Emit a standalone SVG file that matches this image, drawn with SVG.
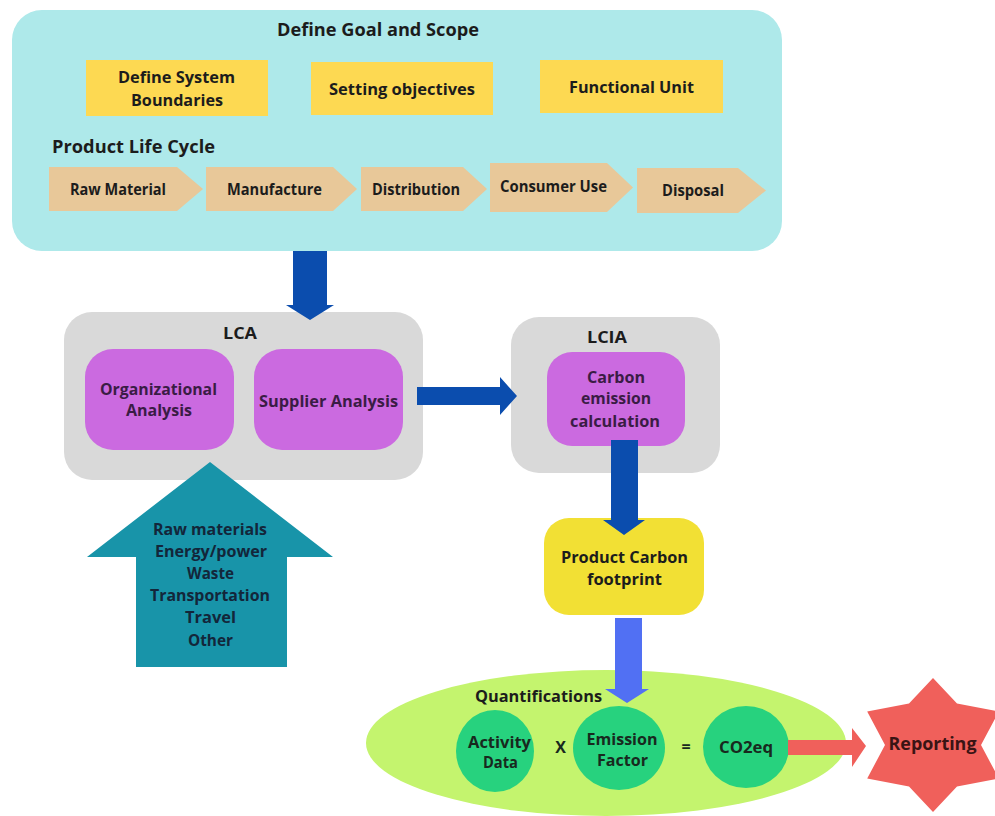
<svg xmlns="http://www.w3.org/2000/svg" width="995" height="816" viewBox="0 0 995 816">
<style>
text{font-family:"Open Sans","Liberation Sans",sans-serif;font-weight:700;fill:#1c1c1c;text-anchor:middle;font-size:16px}
.t{font-size:17px}
.pl{fill:#3a1c45}
.tl{fill:#13263a}
.gl{fill:#18291e}
.yb{fill:#fdd952}
.chev{fill:#e8c899}
.grey{fill:#d9d9d9}
.pur{fill:#cb6ae0}
.blue{fill:#0b4dae}
.circ{fill:#27d27e}
</style>
<rect width="995" height="816" fill="#ffffff"/>
<g id="goal-scope">
<rect x="12" y="10" width="770" height="241" rx="30" fill="#aee9ea"/>
<text class="t" x="378" y="36" textLength="202" lengthAdjust="spacingAndGlyphs">Define Goal and Scope</text>
</g>
<g id="system-boundaries">
<rect class="yb" x="86" y="60" width="182" height="56"/>
<text x="176.5" y="83" textLength="117" lengthAdjust="spacingAndGlyphs">Define System</text>
<text x="177" y="106" textLength="92" lengthAdjust="spacingAndGlyphs">Boundaries</text>
</g>
<g id="setting-objectives">
<rect class="yb" x="311" y="62" width="182" height="53"/>
<text x="402" y="95" textLength="146" lengthAdjust="spacingAndGlyphs">Setting objectives</text>
</g>
<g id="functional-unit">
<rect class="yb" x="540" y="60" width="183" height="53"/>
<text x="631.5" y="93" textLength="125" lengthAdjust="spacingAndGlyphs">Functional Unit</text>
</g>
<g id="product-life-cycle">
<text class="t" x="52" y="153" style="text-anchor:start" textLength="163" lengthAdjust="spacingAndGlyphs">Product Life Cycle</text>
</g>
<g id="raw-material">
<polygon class="chev" points="49,167 177,167 203,189 177,211 49,211"/>
<text x="118" y="195" textLength="96" lengthAdjust="spacingAndGlyphs">Raw Material</text>
</g>
<g id="manufacture">
<polygon class="chev" points="206,167 333,167 357,189 333,211 206,211"/>
<text x="274.5" y="195" textLength="95" lengthAdjust="spacingAndGlyphs">Manufacture</text>
</g>
<g id="distribution">
<polygon class="chev" points="361,167 463,167 487,189 463,211 361,211"/>
<text x="416" y="195" textLength="88" lengthAdjust="spacingAndGlyphs">Distribution</text>
</g>
<g id="consumer-use">
<polygon class="chev" points="490,163 607,163 633,187.5 607,212 490,212"/>
<text x="553.5" y="192" textLength="107" lengthAdjust="spacingAndGlyphs">Consumer Use</text>
</g>
<g id="disposal">
<polygon class="chev" points="637,168 738,168 766,190.5 738,213 637,213"/>
<text x="693" y="196" textLength="62" lengthAdjust="spacingAndGlyphs">Disposal</text>
</g>
<g id="lca">
<rect class="grey" x="64" y="312" width="359" height="168" rx="28"/>
<text x="240" y="339" textLength="34" lengthAdjust="spacingAndGlyphs">LCA</text>
</g>
<g id="organizational-analysis">
<rect class="pur" x="85" y="349" width="149" height="101" rx="28"/>
<text class="pl" x="158.5" y="395" textLength="117" lengthAdjust="spacingAndGlyphs">Organizational</text>
<text class="pl" x="159" y="416" textLength="66" lengthAdjust="spacingAndGlyphs">Analysis</text>
</g>
<g id="supplier-analysis">
<rect class="pur" x="254" y="349" width="149" height="101" rx="28"/>
<text class="pl" x="328.5" y="407" textLength="139" lengthAdjust="spacingAndGlyphs">Supplier Analysis</text>
</g>
<g id="lcia">
<rect class="grey" x="511" y="317" width="209" height="156" rx="28"/>
<text x="607" y="343" textLength="40" lengthAdjust="spacingAndGlyphs">LCIA</text>
</g>
<g id="carbon-emission">
<rect class="pur" x="547" y="352" width="138" height="94" rx="25"/>
<text class="pl" x="616" y="383" textLength="58" lengthAdjust="spacingAndGlyphs">Carbon</text>
<text class="pl" x="616" y="404" textLength="70" lengthAdjust="spacingAndGlyphs">emission</text>
<text class="pl" x="615" y="427" textLength="90" lengthAdjust="spacingAndGlyphs">calculation</text>
</g>
<g id="product-carbon-footprint">
<rect x="544" y="518" width="160" height="97" rx="25" fill="#f2e034"/>
<text x="624.5" y="563" textLength="127" lengthAdjust="spacingAndGlyphs">Product Carbon</text>
<text x="624.5" y="585" textLength="75" lengthAdjust="spacingAndGlyphs">footprint</text>
</g>
<g id="inputs">
<polygon points="210,462 333,557 287,557 287,667 136,667 136,557 87,557" fill="#1894a9"/>
<text class="tl" x="210" y="535" textLength="114" lengthAdjust="spacingAndGlyphs">Raw materials</text>
<text class="tl" x="211" y="557" textLength="112" lengthAdjust="spacingAndGlyphs">Energy/power</text>
<text class="tl" x="210.5" y="579" textLength="47" lengthAdjust="spacingAndGlyphs">Waste</text>
<text class="tl" x="210" y="601" textLength="120" lengthAdjust="spacingAndGlyphs">Transportation</text>
<text class="tl" x="210.5" y="623" textLength="51" lengthAdjust="spacingAndGlyphs">Travel</text>
<text class="tl" x="210.5" y="646" textLength="45" lengthAdjust="spacingAndGlyphs">Other</text>
</g>
<g id="quantifications">
<ellipse cx="606" cy="743" rx="240" ry="73" fill="#c4f46e"/>
<text x="475" y="702" style="text-anchor:start" textLength="127" lengthAdjust="spacingAndGlyphs">Quantifications</text>
<text class="gl" x="560.5" y="753">X</text>
<text class="gl" x="686" y="752">=</text>
</g>
<g id="activity-data">
<ellipse class="circ" cx="495" cy="751" rx="39" ry="41"/>
<text class="gl" x="499.5" y="748" textLength="63" lengthAdjust="spacingAndGlyphs">Activity</text>
<text class="gl" x="500.5" y="768" textLength="35" lengthAdjust="spacingAndGlyphs">Data</text>
</g>
<g id="emission-factor">
<ellipse class="circ" cx="619" cy="748" rx="46" ry="42"/>
<text class="gl" x="622" y="745" textLength="71" lengthAdjust="spacingAndGlyphs">Emission</text>
<text class="gl" x="622.5" y="766" textLength="51" lengthAdjust="spacingAndGlyphs">Factor</text>
</g>
<g id="co2eq">
<ellipse class="circ" cx="746" cy="747" rx="43" ry="41"/>
<text class="gl" x="746" y="753" textLength="54" lengthAdjust="spacingAndGlyphs">CO2eq</text>
</g>
<g id="reporting">
<polygon points="933,678 957,703.4 998.8,711.5 981,745 998.8,778.5 957,786.6 933,812 909,786.6 867.2,778.5 885,745 867.2,711.5 909,703.4" fill="#f0605b"/>
<text x="932.5" y="750" style="font-size:17px;fill:#3a1414" textLength="88" lengthAdjust="spacingAndGlyphs">Reporting</text>
</g>
<g id="connectors">
<polygon class="blue" points="293,251 327,251 327,305 334,305 310,320 286,305 293,305"/>
<polygon class="blue" points="417,387 500,387 500,377 517,396 500,415 500,405 417,405"/>
<polygon class="blue" points="611,440 638,440 638,520 645,520 624,535 603,520 611,520"/>
<polygon points="615,618 642,618 642,689 649,689 627,703 605,689 615,689" fill="#5170f3"/>
<polygon points="788,740 852,740 852,728 866,746 852,767 852,755 788,755" fill="#f0605b"/>
</g>
</svg>
